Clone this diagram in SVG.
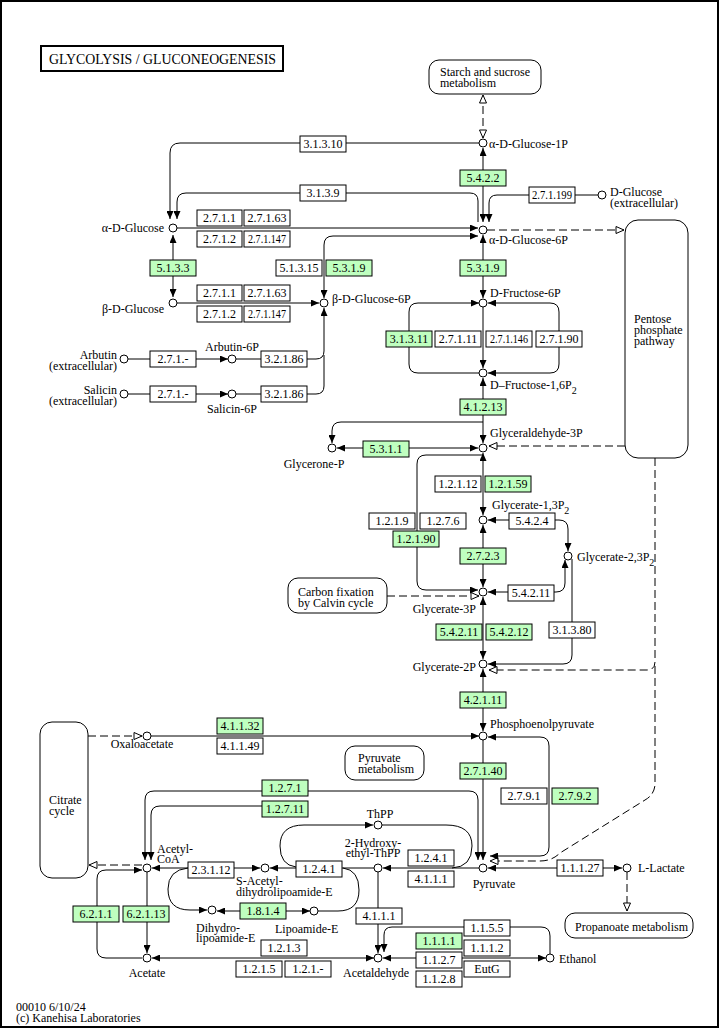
<svg xmlns="http://www.w3.org/2000/svg" width="720" height="1029" viewBox="0 0 720 1029">
<defs>
<style>
.t{font-family:"Liberation Serif","Times New Roman",serif;font-size:12px;fill:#000}
.m{text-anchor:middle}
.r{text-anchor:end}
.e{fill:#fff;stroke:#000;stroke-width:1}
.g{fill:#bfffbf;stroke:#000;stroke-width:1}
.c{fill:#fff;stroke:#000;stroke-width:1}
.l path{fill:none;stroke:#000;stroke-width:1}
.l path.d{stroke-dasharray:8 4}
.map{fill:#fff;stroke:#000;stroke-width:1}
</style>
<marker id="a" viewBox="0 0 8 7" refX="8" refY="3.5" markerWidth="8" markerHeight="7" markerUnits="userSpaceOnUse" orient="auto-start-reverse"><path d="M0,0 L8,3.5 L0,7 z" fill="#000"/></marker>
<marker id="o" viewBox="-1 -1 10 9" refX="8" refY="3.5" markerWidth="10" markerHeight="9" markerUnits="userSpaceOnUse" orient="auto-start-reverse"><path d="M0,0 L8,3.5 L0,7 z" fill="#fff" stroke="#000" stroke-width="1"/></marker>
</defs>
<rect x="1" y="1" width="717" height="1026" fill="#fff" stroke="#000" stroke-width="2"/>
<g id="title"><rect x="41" y="46" width="242" height="25" fill="#fff" stroke="#000" stroke-width="2"/><text class="t" x="49" y="64" style="font-size:14px" textLength="227" lengthAdjust="spacingAndGlyphs">GLYCOLYSIS / GLUCONEOGENESIS</text></g>

<g id="connectors" class="l">
<path d="M479,143 H180 Q170,143 170,153 V219" marker-end="url(#a)"/>
<path d="M478,222 V201 Q478,193 470,193 H186 Q177,193 177,202 V219" marker-end="url(#a)"/>
<path d="M483,148 V222" marker-start="url(#a)" marker-end="url(#a)"/>
<path class="d" d="M483,138 V95" marker-start="url(#o)" marker-end="url(#o)"/>
<path d="M598,195 H497 Q489,195 489,203 V222" marker-end="url(#a)"/>
<path class="d" d="M487,230 H624" marker-end="url(#o)"/>
<path d="M177,228 H478" marker-end="url(#a)"/>
<path d="M173,235 V297" marker-start="url(#a)" marker-end="url(#a)"/>
<path d="M177,303 H319" marker-end="url(#a)"/>
<path d="M324,298 V245 Q324,236 333,236 H478" marker-start="url(#a)" marker-end="url(#a)"/>
<path d="M128,359 H228" marker-end="url(#a)"/>
<path d="M236,359 H316 Q324,359 324,351 V308" marker-end="url(#a)"/>
<path d="M128,394 H228" marker-end="url(#a)"/>
<path d="M236,394 H316 Q324,394 324,386 V355"/>
<path d="M483,235 V298" marker-start="url(#a)" marker-end="url(#a)"/>
<path d="M483,307 V368" marker-end="url(#a)"/>
<path d="M479,373 H418 Q409,373 409,364 V312 Q409,303 418,303 H479" marker-end="url(#a)"/>
<path d="M488,303 H550 Q559,303 559,312 V364 Q559,373 550,373 H488" marker-start="url(#a)" marker-end="url(#a)"/>
<path d="M483,378 V443" marker-start="url(#a)" marker-end="url(#a)"/>
<path d="M483,422 H341 Q332,422 332,431 V443" marker-end="url(#a)"/>
<path d="M337,448 H478" marker-start="url(#a)" marker-end="url(#a)"/>
<path class="d" d="M625,446 H489" marker-end="url(#o)"/>
<path d="M483,453 V515" marker-start="url(#a)" marker-end="url(#a)"/>
<path d="M483,455 H426 Q417,455 417,464 V581 Q417,590 426,590 H478" marker-end="url(#a)"/>
<path d="M483,525 V587" marker-start="url(#a)" marker-end="url(#a)"/>
<path d="M488,520 H559 Q568,520 568,529 V551" marker-start="url(#a)" marker-end="url(#a)"/>
<path d="M488,592 H556 Q565,592 565,583 V560" marker-start="url(#a)" marker-end="url(#a)"/>
<path d="M572,559 V655 Q572,664 563,664 H488" marker-end="url(#a)"/>
<path class="d" d="M387,596 H479" marker-end="url(#o)"/>
<path d="M483,597 V659" marker-start="url(#a)" marker-end="url(#a)"/>
<path class="d" d="M655,458 V662 Q655,670 647,670 H489" marker-end="url(#o)"/>
<path class="d" d="M655,666 V785 Q654,795 645,800 L560,853 Q552,861 540,861 H490" marker-end="url(#o)"/>
<path d="M483,669 V731" marker-start="url(#a)" marker-end="url(#a)"/>
<path d="M151,736 H479" marker-end="url(#a)"/>
<path class="d" d="M88,736 H142" marker-end="url(#o)"/>
<path d="M483,740 V860" marker-end="url(#a)"/>
<path d="M488,737 H540 Q549,737 549,746 V847 Q549,856 540,856 H490" marker-start="url(#a)" marker-end="url(#a)"/>
<path d="M488,868 H622" marker-start="url(#a)" marker-end="url(#a)"/>
<path class="d" d="M627,872 V911" marker-end="url(#o)"/>
<path d="M478,860 V800 Q478,791 469,791 H154 Q145,791 145,800 V860" marker-start="url(#a)" marker-end="url(#a)"/>
<path d="M262,806 H160 Q151,806 151,815 V860" marker-end="url(#a)"/>
<path d="M479,868 H383" marker-end="url(#a)"/>
<path d="M382,825 H446 Q472,825 472,846 Q472,867 452,868"/>
<path d="M296,867 Q280,865 280,846 Q280,825 304,825 H373" marker-end="url(#a)"/>
<path d="M374,868 H270" marker-end="url(#a)"/>
<path d="M343,868 Q359,870 359,890 Q359,911 338,911 H318"/>
<path d="M217,911 H310" marker-start="url(#a)" marker-end="url(#a)"/>
<path d="M188,868 Q168,870 168,889 Q168,910 190,910 H207" marker-end="url(#a)"/>
<path d="M152,868 H260" marker-start="url(#a)" marker-end="url(#a)"/>
<path class="d" d="M142,865 H89" marker-end="url(#o)"/>
<path d="M142,958 H106 Q97,958 97,949 V879 Q97,870 106,870 H142" marker-end="url(#a)"/>
<path d="M147,872 V953" marker-end="url(#a)"/>
<path d="M152,958 H374" marker-start="url(#a)" marker-end="url(#a)"/>
<path d="M378,872 V953" marker-end="url(#a)"/>
<path d="M550,954 V936 Q550,927 541,927 H392 Q384,927 384,935 V952" marker-end="url(#a)"/>
<path d="M546,958 H383" marker-start="url(#a)" marker-end="url(#a)"/>
</g>

<g id="maps">
<g id="map-starch"><rect class="map" x="429" y="60" width="112" height="34" rx="10"/><text class="t" x="440" y="76">Starch and sucrose<tspan x="440" dy="11">metabolism</tspan></text></g>
<g id="map-ppp"><rect class="map" x="625" y="220" width="63" height="238" rx="13"/><text class="t" x="634" y="323">Pentose<tspan x="634" dy="11">phosphate</tspan><tspan x="634" dy="11">pathway</tspan></text></g>
<g id="map-calvin"><rect class="map" x="288" y="578" width="99" height="35" rx="10"/><text class="t" x="298" y="596">Carbon fixation<tspan x="298" dy="11">by Calvin cycle</tspan></text></g>
<g id="map-tca"><rect class="map" x="40" y="722" width="48" height="156" rx="12"/><text class="t" x="49" y="804">Citrate<tspan x="49" dy="11">cycle</tspan></text></g>
<g id="map-pyruvate"><rect class="map" x="345" y="746" width="79" height="34" rx="10"/><text class="t" x="358" y="762">Pyruvate<tspan x="358" dy="11">metabolism</tspan></text></g>
<g id="map-propanoate"><rect class="map" x="565" y="913" width="128" height="25" rx="10"/><text class="t" x="575" y="931">Propanoate metabolism</text></g>
</g>

<g id="enzymes">
<g id="ec3.1.3.10"><rect class="e" x="300" y="136" width="46" height="16"/><text class="t m" x="323" y="148">3.1.3.10</text></g>
<g id="ec3.1.3.9"><rect class="e" x="300" y="185" width="46" height="16"/><text class="t m" x="323" y="197">3.1.3.9</text></g>
<g id="ec5.4.2.2"><rect class="g" x="460" y="170" width="46" height="16"/><text class="t m" x="483" y="182">5.4.2.2</text></g>
<g id="ec2.7.1.199"><rect class="e" x="529" y="187" width="46" height="16"/><text class="t m" x="552" y="199" textLength="40" lengthAdjust="spacingAndGlyphs">2.7.1.199</text></g>
<g id="ec2.7.1.1a"><rect class="e" x="197" y="210" width="45" height="16"/><text class="t m" x="219.5" y="222">2.7.1.1</text></g>
<g id="ec2.7.1.63a"><rect class="e" x="244" y="210" width="46" height="16"/><text class="t m" x="267" y="222">2.7.1.63</text></g>
<g id="ec2.7.1.2a"><rect class="e" x="197" y="231" width="45" height="16"/><text class="t m" x="219.5" y="243">2.7.1.2</text></g>
<g id="ec2.7.1.147a"><rect class="e" x="244" y="231" width="46" height="16"/><text class="t m" x="267" y="243" textLength="38" lengthAdjust="spacingAndGlyphs">2.7.1.147</text></g>
<g id="ec5.1.3.3"><rect class="g" x="150" y="260" width="46" height="16"/><text class="t m" x="173" y="272">5.1.3.3</text></g>
<g id="ec5.1.3.15"><rect class="e" x="276" y="260" width="46" height="16"/><text class="t m" x="299" y="272">5.1.3.15</text></g>
<g id="ec5.3.1.9a"><rect class="g" x="326" y="260" width="46" height="16"/><text class="t m" x="349" y="272">5.3.1.9</text></g>
<g id="ec5.3.1.9b"><rect class="g" x="460" y="260" width="46" height="16"/><text class="t m" x="483" y="272">5.3.1.9</text></g>
<g id="ec2.7.1.1b"><rect class="e" x="197" y="285" width="45" height="16"/><text class="t m" x="219.5" y="297">2.7.1.1</text></g>
<g id="ec2.7.1.63b"><rect class="e" x="244" y="285" width="46" height="16"/><text class="t m" x="267" y="297">2.7.1.63</text></g>
<g id="ec2.7.1.2b"><rect class="e" x="197" y="306" width="45" height="16"/><text class="t m" x="219.5" y="318">2.7.1.2</text></g>
<g id="ec2.7.1.147b"><rect class="e" x="244" y="306" width="46" height="16"/><text class="t m" x="267" y="318" textLength="38" lengthAdjust="spacingAndGlyphs">2.7.1.147</text></g>
<g id="ec2.7.1.-a"><rect class="e" x="150" y="351" width="46" height="16"/><text class="t m" x="173" y="363">2.7.1.-</text></g>
<g id="ec3.2.1.86a"><rect class="e" x="261" y="351" width="46" height="16"/><text class="t m" x="284" y="363">3.2.1.86</text></g>
<g id="ec2.7.1.-b"><rect class="e" x="150" y="386" width="46" height="16"/><text class="t m" x="173" y="398">2.7.1.-</text></g>
<g id="ec3.2.1.86b"><rect class="e" x="261" y="386" width="46" height="16"/><text class="t m" x="284" y="398">3.2.1.86</text></g>
<g id="ec3.1.3.11"><rect class="g" x="386" y="331" width="46" height="16"/><text class="t m" x="409" y="343">3.1.3.11</text></g>
<g id="ec2.7.1.11"><rect class="e" x="435" y="331" width="46" height="16"/><text class="t m" x="458" y="343">2.7.1.11</text></g>
<g id="ec2.7.1.146"><rect class="e" x="486" y="331" width="46" height="16"/><text class="t m" x="509" y="343" textLength="38" lengthAdjust="spacingAndGlyphs">2.7.1.146</text></g>
<g id="ec2.7.1.90"><rect class="e" x="536" y="331" width="46" height="16"/><text class="t m" x="559" y="343">2.7.1.90</text></g>
<g id="ec4.1.2.13"><rect class="g" x="460" y="399" width="46" height="16"/><text class="t m" x="483" y="411">4.1.2.13</text></g>
<g id="ec5.3.1.1"><rect class="g" x="363" y="441" width="46" height="16"/><text class="t m" x="386" y="453">5.3.1.1</text></g>
<g id="ec1.2.1.12"><rect class="e" x="435" y="476" width="46" height="16"/><text class="t m" x="458" y="488">1.2.1.12</text></g>
<g id="ec1.2.1.59"><rect class="g" x="485" y="476" width="46" height="16"/><text class="t m" x="508" y="488">1.2.1.59</text></g>
<g id="ec1.2.1.9"><rect class="e" x="369" y="513" width="46" height="16"/><text class="t m" x="392" y="525">1.2.1.9</text></g>
<g id="ec1.2.7.6"><rect class="e" x="420" y="513" width="46" height="16"/><text class="t m" x="443" y="525">1.2.7.6</text></g>
<g id="ec1.2.1.90"><rect class="g" x="393" y="531" width="46" height="16"/><text class="t m" x="416" y="543">1.2.1.90</text></g>
<g id="ec5.4.2.4"><rect class="e" x="509" y="513" width="46" height="16"/><text class="t m" x="532" y="525">5.4.2.4</text></g>
<g id="ec2.7.2.3"><rect class="g" x="460" y="548" width="46" height="16"/><text class="t m" x="483" y="560">2.7.2.3</text></g>
<g id="ec5.4.2.11a"><rect class="e" x="508" y="585" width="46" height="16"/><text class="t m" x="531" y="597">5.4.2.11</text></g>
<g id="ec5.4.2.11b"><rect class="g" x="436" y="624" width="46" height="16"/><text class="t m" x="459" y="636">5.4.2.11</text></g>
<g id="ec5.4.2.12"><rect class="g" x="486" y="624" width="46" height="16"/><text class="t m" x="509" y="636">5.4.2.12</text></g>
<g id="ec3.1.3.80"><rect class="e" x="549" y="622" width="46" height="16"/><text class="t m" x="572" y="634">3.1.3.80</text></g>
<g id="ec4.2.1.11"><rect class="g" x="460" y="692" width="46" height="16"/><text class="t m" x="483" y="704">4.2.1.11</text></g>
<g id="ec4.1.1.32"><rect class="g" x="217" y="718" width="46" height="16"/><text class="t m" x="240" y="730">4.1.1.32</text></g>
<g id="ec4.1.1.49"><rect class="e" x="217" y="738" width="46" height="16"/><text class="t m" x="240" y="750">4.1.1.49</text></g>
<g id="ec2.7.1.40"><rect class="g" x="460" y="763" width="46" height="16"/><text class="t m" x="483" y="775">2.7.1.40</text></g>
<g id="ec2.7.9.1"><rect class="e" x="501" y="788" width="46" height="16"/><text class="t m" x="524" y="800">2.7.9.1</text></g>
<g id="ec2.7.9.2"><rect class="g" x="552" y="788" width="46" height="16"/><text class="t m" x="575" y="800">2.7.9.2</text></g>
<g id="ec1.2.7.1"><rect class="g" x="262" y="780" width="46" height="16"/><text class="t m" x="285" y="792">1.2.7.1</text></g>
<g id="ec1.2.7.11"><rect class="g" x="262" y="801" width="46" height="16"/><text class="t m" x="285" y="813">1.2.7.11</text></g>
<g id="ec1.2.4.1a"><rect class="e" x="408" y="850" width="46" height="16"/><text class="t m" x="431" y="862">1.2.4.1</text></g>
<g id="ec4.1.1.1a"><rect class="e" x="408" y="871" width="46" height="16"/><text class="t m" x="431" y="883">4.1.1.1</text></g>
<g id="ec1.2.4.1b"><rect class="e" x="296" y="861" width="46" height="16"/><text class="t m" x="319" y="873">1.2.4.1</text></g>
<g id="ec2.3.1.12"><rect class="e" x="188" y="862" width="46" height="16"/><text class="t m" x="211" y="874">2.3.1.12</text></g>
<g id="ec1.8.1.4"><rect class="g" x="240" y="903" width="46" height="16"/><text class="t m" x="263" y="915">1.8.1.4</text></g>
<g id="ec6.2.1.1"><rect class="g" x="73" y="906" width="46" height="16"/><text class="t m" x="96" y="918">6.2.1.1</text></g>
<g id="ec6.2.1.13"><rect class="g" x="123" y="906" width="46" height="16"/><text class="t m" x="146" y="918">6.2.1.13</text></g>
<g id="ec4.1.1.1b"><rect class="e" x="356" y="908" width="46" height="16"/><text class="t m" x="379" y="920">4.1.1.1</text></g>
<g id="ec1.2.1.3"><rect class="e" x="261" y="940" width="46" height="16"/><text class="t m" x="284" y="952">1.2.1.3</text></g>
<g id="ec1.2.1.5"><rect class="e" x="236" y="961" width="46" height="16"/><text class="t m" x="259" y="973">1.2.1.5</text></g>
<g id="ec1.2.1.-"><rect class="e" x="285" y="961" width="46" height="16"/><text class="t m" x="308" y="973">1.2.1.-</text></g>
<g id="ec1.1.5.5"><rect class="e" x="464" y="920" width="46" height="16"/><text class="t m" x="487" y="932">1.1.5.5</text></g>
<g id="ec1.1.1.1"><rect class="g" x="416" y="933" width="46" height="16"/><text class="t m" x="439" y="945">1.1.1.1</text></g>
<g id="ec1.1.1.2"><rect class="e" x="464" y="940" width="46" height="16"/><text class="t m" x="487" y="952">1.1.1.2</text></g>
<g id="ec1.1.2.7"><rect class="e" x="416" y="952" width="46" height="16"/><text class="t m" x="439" y="964">1.1.2.7</text></g>
<g id="ecEutG"><rect class="e" x="464" y="961" width="46" height="16"/><text class="t m" x="487" y="973">EutG</text></g>
<g id="ec1.1.2.8"><rect class="e" x="416" y="971" width="46" height="16"/><text class="t m" x="439" y="983">1.1.2.8</text></g>
<g id="ec1.1.1.27"><rect class="e" x="557" y="860" width="46" height="16"/><text class="t m" x="580" y="872">1.1.1.27</text></g>
</g>

<g id="compounds">
<g id="c-g1p"><circle class="c" cx="483" cy="143" r="4"/><text class="t" x="489" y="148">α-D-Glucose-1P</text></g>
<g id="c-g6p"><circle class="c" cx="483" cy="230" r="4"/><text class="t" x="489" y="244">α-D-Glucose-6P</text></g>
<g id="c-dglc"><circle class="c" cx="602" cy="195" r="4"/><text class="t" x="610" y="196">D-Glucose<tspan x="610" dy="11">(extracellular)</tspan></text></g>
<g id="c-aglc"><circle class="c" cx="173" cy="228" r="4"/><text class="t r" x="164" y="232">α-D-Glucose</text></g>
<g id="c-bglc"><circle class="c" cx="173" cy="303" r="4"/><text class="t r" x="164" y="313">β-D-Glucose</text></g>
<g id="c-bg6p"><circle class="c" cx="324" cy="303" r="4"/><text class="t" x="332" y="303">β-D-Glucose-6P</text></g>
<g id="c-arbext"><circle class="c" cx="124" cy="359" r="4"/><text class="t r" x="117" y="359">Arbutin<tspan x="117" dy="11">(extracellular)</tspan></text></g>
<g id="c-arb6p"><circle class="c" cx="232" cy="359" r="4"/><text class="t" x="205" y="351">Arbutin-6P</text></g>
<g id="c-salext"><circle class="c" cx="124" cy="394" r="4"/><text class="t r" x="117" y="394">Salicin<tspan x="117" dy="11">(extracellular)</tspan></text></g>
<g id="c-sal6p"><circle class="c" cx="232" cy="394" r="4"/><text class="t" x="207" y="413">Salicin-6P</text></g>
<g id="c-f6p"><circle class="c" cx="483" cy="303" r="4"/><text class="t" x="490" y="297">D-Fructose-6P</text></g>
<g id="c-f16p"><circle class="c" cx="483" cy="373" r="4"/><text class="t" x="490" y="389">D–Fructose-1,6P<tspan dy="5" style="font-size:10px">2</tspan></text></g>
<g id="c-gap"><circle class="c" cx="483" cy="448" r="4"/><text class="t" x="490" y="437">Glyceraldehyde-3P</text></g>
<g id="c-dhap"><circle class="c" cx="332" cy="448" r="4"/><text class="t m" x="314" y="468">Glycerone-P</text></g>
<g id="c-bpg13"><circle class="c" cx="483" cy="520" r="4"/><text class="t" x="492" y="509">Glycerate-1,3P<tspan dy="5" style="font-size:10px">2</tspan></text></g>
<g id="c-bpg23"><circle class="c" cx="568" cy="556" r="4"/><text class="t" x="577" y="561">Glycerate-2,3P<tspan dy="5" style="font-size:10px">2</tspan></text></g>
<g id="c-pg3"><circle class="c" cx="483" cy="592" r="4"/><text class="t r" x="476" y="613">Glycerate-3P</text></g>
<g id="c-pg2"><circle class="c" cx="483" cy="664" r="4"/><text class="t r" x="476" y="671">Glycerate-2P</text></g>
<g id="c-pep"><circle class="c" cx="483" cy="736" r="4"/><text class="t" x="490" y="728">Phosphoenolpyruvate</text></g>
<g id="c-oaa"><circle class="c" cx="147" cy="736" r="4"/><text class="t m" x="142" y="748">Oxaloacetate</text></g>
<g id="c-pyr"><circle class="c" cx="483" cy="868" r="4"/><text class="t m" x="494" y="888">Pyruvate</text></g>
<g id="c-lac"><circle class="c" cx="627" cy="868" r="4"/><text class="t" x="638" y="872">L-Lactate</text></g>
<g id="c-accoa"><circle class="c" cx="147" cy="868" r="4"/><text class="t" x="157" y="853">Acetyl-<tspan x="157" dy="10">CoA</tspan></text></g>
<g id="c-sacdhl"><circle class="c" cx="265" cy="868" r="4"/><text class="t" x="236" y="885">S-Acetyl-<tspan x="236" dy="11">dihydrolipoamide-E</tspan></text></g>
<g id="c-dhl"><circle class="c" cx="212" cy="910" r="4"/><text class="t" x="196" y="932">Dihydro-<tspan x="196" dy="10">lipoamide-E</tspan></text></g>
<g id="c-lip"><circle class="c" cx="314" cy="911" r="4"/><text class="t" x="275" y="933">Lipoamide-E</text></g>
<g id="c-thpp"><circle class="c" cx="378" cy="825" r="4"/><text class="t m" x="380" y="818">ThPP</text></g>
<g id="c-hethpp"><circle class="c" cx="378" cy="868" r="4"/><text class="t m" x="373" y="847">2-Hydroxy-<tspan x="373" dy="10">ethyl-ThPP</tspan></text></g>
<g id="c-acetate"><circle class="c" cx="147" cy="958" r="4"/><text class="t m" x="147" y="977">Acetate</text></g>
<g id="c-acald"><circle class="c" cx="378" cy="958" r="4"/><text class="t m" x="376" y="977">Acetaldehyde</text></g>
<g id="c-ethanol"><circle class="c" cx="550" cy="958" r="4"/><text class="t" x="559" y="963">Ethanol</text></g>
</g>

<g id="footer"><text class="t" x="16" y="1011">00010 6/10/24<tspan x="16" dy="11">(c) Kanehisa Laboratories</tspan></text></g>
</svg>
